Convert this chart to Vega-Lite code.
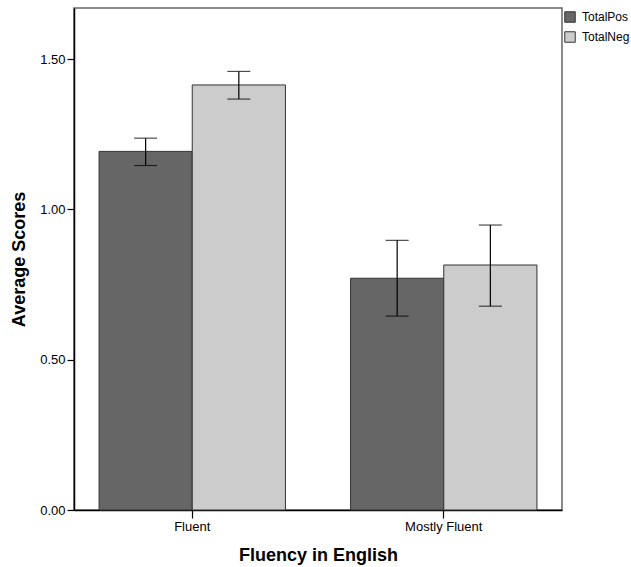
{
  "$schema": "https://vega.github.io/schema/vega-lite/v6.json",
  "width": 488,
  "height": 502,
  "autosize": {"type": "none"},
  "padding": {"left": 74, "top": 8, "right": 69, "bottom": 57},
  "background": "white",
  "config": {
    "font": "Liberation Sans",
    "view": {"stroke": "#666666", "strokeWidth": 1.5},
    "axis": {"grid": false, "domainColor": "#000000", "tickColor": "#000000", "labelColor": "#000000", "titleColor": "#000000", "labelFont": "Liberation Sans", "titleFont": "Liberation Sans"}
  },
  "data": {
    "values": [
      {"fluency": "Fluent", "measure": "TotalPos", "mean": 1.193, "lo": 1.146, "hi": 1.237},
      {"fluency": "Fluent", "measure": "TotalNeg", "mean": 1.414, "lo": 1.367, "hi": 1.459},
      {"fluency": "Mostly Fluent", "measure": "TotalPos", "mean": 0.771, "lo": 0.645, "hi": 0.897},
      {"fluency": "Mostly Fluent", "measure": "TotalNeg", "mean": 0.815, "lo": 0.678, "hi": 0.948}
    ]
  },
  "encoding": {
    "x": {
      "field": "fluency", "type": "nominal", "sort": ["Fluent", "Mostly Fluent"],
      "scale": {"paddingInner": 0.259, "paddingOuter": 0.0996},
      "axis": {"title": "Fluency in English", "labelAngle": 0, "labelFontSize": 13, "tickSize": 8, "labelPadding": 2, "titleFontSize": 18, "titleFontWeight": "bold", "titlePadding": 13, "domainWidth": 1.5, "tickWidth": 1.2}
    },
    "xOffset": {"field": "measure", "type": "nominal", "sort": ["TotalPos", "TotalNeg"]}
  },
  "layer": [
    {
      "mark": {"type": "bar", "stroke": "#333333", "strokeWidth": 1},
      "encoding": {
        "y": {
          "field": "mean", "type": "quantitative",
          "scale": {"domain": [0, 1.67], "nice": false, "zero": true},
          "axis": {"title": "Average Scores", "values": [0, 0.5, 1, 1.5], "format": ".2f", "labelFontSize": 13, "tickSize": 7, "labelPadding": 2, "titleFontSize": 18, "titleFontWeight": "bold", "titleX": -55, "titleY": 251, "titleAngle": 270, "titleAlign": "center", "titleBaseline": "middle", "domainWidth": 1.5, "tickWidth": 1.2}
        },
        "color": {
          "field": "measure", "type": "nominal",
          "scale": {"domain": ["TotalPos", "TotalNeg"], "range": ["#666666", "#cccccc"]},
          "legend": {"title": null, "orient": "none", "legendX": 490, "legendY": 3, "padding": 0, "symbolType": "square", "symbolSize": 110, "symbolStrokeColor": "#333333", "symbolStrokeWidth": 1, "symbolOpacity": 1, "labelFontSize": 12, "labelColor": "#000000", "labelOffset": 6, "rowPadding": 4, "labelFont": "Liberation Sans"}
        }
      }
    },
    {
      "mark": {"type": "rule", "color": "#000000", "strokeWidth": 1.2},
      "encoding": {
        "y": {"field": "lo", "type": "quantitative"},
        "y2": {"field": "hi"}
      }
    },
    {
      "mark": {"type": "tick", "color": "#000000", "size": 23, "thickness": 1.2},
      "encoding": {"y": {"field": "lo", "type": "quantitative"}}
    },
    {
      "mark": {"type": "tick", "color": "#000000", "size": 23, "thickness": 1.2},
      "encoding": {"y": {"field": "hi", "type": "quantitative"}}
    }
  ]
}
